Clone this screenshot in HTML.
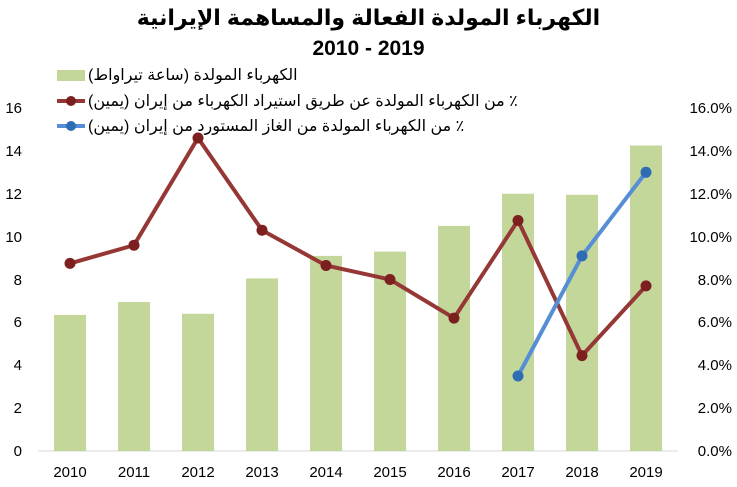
<!DOCTYPE html>
<html><head><meta charset="utf-8"><style>
body{margin:0;background:#fff;width:737px;height:487px;overflow:hidden;position:relative;font-family:"Liberation Sans","DejaVu Sans",sans-serif}
.t{position:absolute;white-space:nowrap}
.lg{position:absolute;font-size:16px;direction:rtl;white-space:nowrap;color:#000;left:88px}
</style></head><body>
<div class="t" style="left:0;width:737px;top:5px;text-align:center;font-weight:bold;font-size:22px;direction:rtl">الكهرباء المولدة الفعالة والمساهمة الإيرانية</div>
<div class="t" style="left:0;width:737px;top:37px;text-align:center;font-weight:bold;font-size:21px">2010 - 2019</div>
<svg width="737" height="487" style="position:absolute;left:0;top:0" font-family="Liberation Sans, sans-serif" font-size="15">
<line x1="38" y1="451" x2="678" y2="451" stroke="#d9d9d9" stroke-width="1"/>
<g fill="#c4d79b">
<rect x="54" y="314.9" width="32" height="136.1"/>
<rect x="118" y="302" width="32" height="149"/>
<rect x="182" y="313.8" width="32" height="137.2"/>
<rect x="246" y="278.4" width="32" height="172.6"/>
<rect x="310" y="255.9" width="32" height="195.1"/>
<rect x="374" y="251.6" width="32" height="199.4"/>
<rect x="438" y="225.9" width="32" height="225.1"/>
<rect x="502" y="193.7" width="32" height="257.3"/>
<rect x="566" y="194.8" width="32" height="256.2"/>
<rect x="630" y="145.5" width="32" height="305.5"/>
</g>
<polyline fill="none" stroke="#953735" stroke-width="4" points="70,263.4 134,245.2 198,138 262,230.2 326,265.5 390,279.5 454,318.1 518,220.5 582,355.6 646,285.9"/>
<g fill="#7b1f1f">
<circle cx="70" cy="263.4" r="5.5"/><circle cx="134" cy="245.2" r="5.5"/><circle cx="198" cy="138" r="5.5"/><circle cx="262" cy="230.2" r="5.5"/><circle cx="326" cy="265.5" r="5.5"/><circle cx="390" cy="279.5" r="5.5"/><circle cx="454" cy="318.1" r="5.5"/><circle cx="518" cy="220.5" r="5.5"/><circle cx="582" cy="355.6" r="5.5"/><circle cx="646" cy="285.9" r="5.5"/>
</g>
<polyline fill="none" stroke="#558ed5" stroke-width="4" points="518,376 582,255.9 646,172.3"/>
<g fill="#2e6db4"><circle cx="518" cy="376" r="5.5"/><circle cx="582" cy="255.9" r="5.5"/><circle cx="646" cy="172.3" r="5.5"/></g>
<g text-anchor="end" fill="#000">
<text x="22" y="456">0</text><text x="22" y="413">2</text><text x="22" y="370">4</text><text x="22" y="327">6</text><text x="22" y="285">8</text><text x="22" y="242">10</text><text x="22" y="199">12</text><text x="22" y="156">14</text><text x="22" y="113">16</text>
</g>
<g text-anchor="end" fill="#000">
<text x="732" y="456">0.0%</text><text x="732" y="413">2.0%</text><text x="732" y="370">4.0%</text><text x="732" y="327">6.0%</text><text x="732" y="285">8.0%</text><text x="732" y="242">10.0%</text><text x="732" y="199">12.0%</text><text x="732" y="156">14.0%</text><text x="732" y="113">16.0%</text>
</g>
<g text-anchor="middle" fill="#000">
<text x="70" y="477">2010</text><text x="134" y="477">2011</text><text x="198" y="477">2012</text><text x="262" y="477">2013</text><text x="326" y="477">2014</text><text x="390" y="477">2015</text><text x="454" y="477">2016</text><text x="518" y="477">2017</text><text x="582" y="477">2018</text><text x="646" y="477">2019</text>
</g>
<rect x="57" y="70" width="28" height="11" fill="#c4d79b"/>
<line x1="57" y1="101" x2="85" y2="101" stroke="#953735" stroke-width="4"/><circle cx="71" cy="101" r="5" fill="#7b1f1f"/>
<line x1="57" y1="126" x2="85" y2="126" stroke="#558ed5" stroke-width="4"/><circle cx="71" cy="126" r="5" fill="#2e6db4"/>
</svg>
<div class="lg" style="top:65px">الكهرباء المولدة (ساعة تيراواط)</div>
<div class="lg" style="top:91px">٪ من الكهرباء المولدة عن طريق استيراد الكهرباء من إيران (يمين)</div>
<div class="lg" style="top:116px">٪ من الكهرباء المولدة من الغاز المستورد من إيران (يمين)</div>
</body></html>
